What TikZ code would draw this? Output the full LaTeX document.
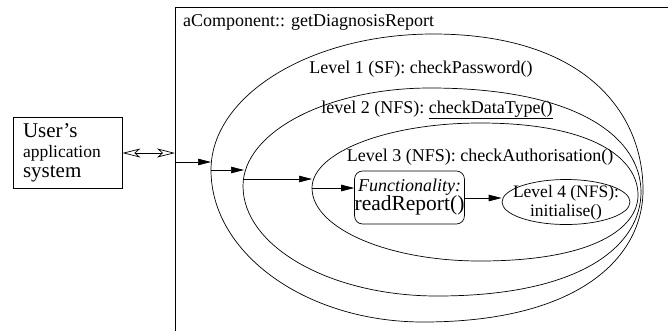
\documentclass[tikz,border=0pt]{standalone}
\usepackage{fontspec}
\setmainfont{Liberation Serif}
\usetikzlibrary{arrows.meta,shapes.geometric}
\begin{document}
\begin{tikzpicture}[x=1pt,y=-1pt,
  lbl/.style={font=\fontsize{18}{19}\selectfont, inner sep=0},
  flow/.style={-{Triangle[length=13pt,width=6.5pt]}, line width=0.7pt},
  dbl/.style={{Stealth[open,length=18pt,width=9pt,inset=5pt]}-{Stealth[open,length=18pt,width=9pt,inset=5pt]}, line width=0.7pt},
  region/.style={line width=0.7pt},
  frame/.style={draw, line width=0.8pt, inner sep=0},
]
\useasboundingbox (0,0) rectangle (668,330);

% component frame
\node[frame, anchor=north west, minimum width=540pt, minimum height=360pt] (comp) at (175,7) {};
\node[lbl, anchor=west] (title) at (183,22) {aComponent:: getDiagnosisReport};

% user box
\node[frame, minimum width=109pt, minimum height=71pt, text width=89pt, align=left,
      font=\fontsize{21}{20}\selectfont] (user) at (67.5,152.5)
  {User's\\{\fontsize{17.5}{20}\selectfont application}\\system};

% nested regions
\draw[region] (211,170) .. controls (211,95.2) and (310.9,34) .. (433,34)
  .. controls (584,34) and (643,112) .. (643,190)
  .. controls (643,256) and (581,322) .. (423,322)
  .. controls (306.4,322) and (211,253.6) .. (211,170) -- cycle;
\draw[region] (243,186) .. controls (243,132.1) and (327.2,88) .. (430,88)
  .. controls (582,88) and (641,140) .. (641,192)
  .. controls (641,244) and (584,296) .. (437,296)
  .. controls (330.3,296) and (243,246.5) .. (243,186) -- cycle;
\draw[region] (312,188) .. controls (312,152.3) and (387.6,123) .. (480,123)
  .. controls (594,123) and (638,159) .. (638,195)
  .. controls (638,228) and (594,261) .. (480,261)
  .. controls (387.6,261) and (312,228.2) .. (312,188) -- cycle;

\node[lbl] (t1) at (421,69) {Level 1 (SF): checkPassword()};
\node[lbl] (t2) at (437,110) {level 2 (NFS): \underline{checkDataType()}};
\node[lbl] (t3) at (480,157) {Level 3 (NFS): checkAuthorisation()};

% functionality box
\node[draw, region, rounded corners=8pt, minimum width=109pt, minimum height=53pt,
      inner sep=0, align=center, font=\fontsize{18}{19}\selectfont] (func) at (409.5,197.5)
  {{\itshape Functionality:}\\{\fontsize{21.5}{19}\selectfont readReport()}};

% level 4
\node[draw, region, ellipse, minimum width=128pt, minimum height=45pt, inner sep=0] (l4) at (566,202) {};
\node[lbl, align=center, font=\fontsize{17.5}{19}\selectfont] (l4t) at (566,202.5) {Level 4 (NFS):\\initialise()};

% connectors
\coordinate (d0) at (122,153);
\draw[dbl] (user.east |- d0) -- (comp.west |- d0);

\coordinate (p0) at (175,162); \coordinate (q0) at (211,162);
\draw[flow] (p0) -- (q0);
\coordinate (p1) at (211,170); \coordinate (q1) at (244,170);
\draw[flow] (p1) -- (q1);
\coordinate (p2) at (244,179); \coordinate (q2) at (312,179);
\draw[flow] (p2) -- (q2);
\coordinate (p3) at (312,188);
\draw[flow] (p3) -- (func.west |- p3);
\coordinate (p4) at (464,198);
\draw[flow] (p4) -- (l4.west |- p4);
\end{tikzpicture}
\end{document}
